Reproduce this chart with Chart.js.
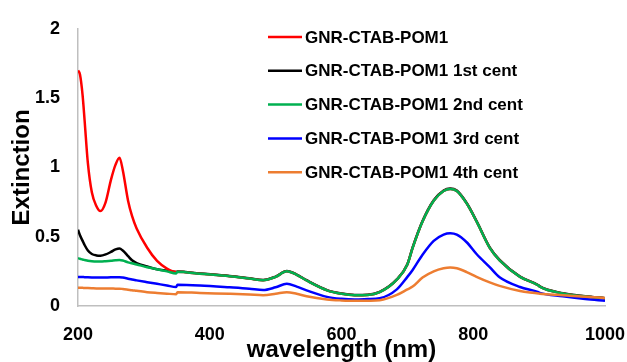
<!DOCTYPE html>
<html>
<head>
<meta charset="utf-8">
<script src="https://cdn.jsdelivr.net/npm/chart.js@4"></script>
<style>
  html, body { margin: 0; padding: 0; background: #fff; }
  #wrap { width: 627px; height: 362px; }
</style>
</head>
<body>
<div id="wrap"><canvas id="myChart" width="627" height="362"></canvas></div>
<script>
// wavelength (nm)
const wavelengths = [200, 203, 207, 210, 215, 221, 228, 234, 242, 250, 257, 263, 268, 276, 282, 289, 305, 320, 335, 349,
    351, 385, 430, 460, 481, 500, 517, 532, 547, 578, 600, 620, 640, 658, 684, 700, 708, 723, 740, 755, 765, 775,
    790, 805, 825, 840, 871, 899, 901, 936, 970, 1000];

const seriesNames = ["GNR-CTAB-POM1", "GNR-CTAB-POM1 1st cent", "GNR-CTAB-POM1 2nd cent", "GNR-CTAB-POM1 3rd cent", "GNR-CTAB-POM1 4th cent"];
const seriesColors = ["#ff0000", "#000000", "#00b050", "#0000ff", "#ed7d31"];

const pom1 = [1.70, 1.67, 1.52, 1.34, 1.03, 0.82, 0.72, 0.685, 0.75, 0.91, 1.02, 1.07, 0.98, 0.76, 0.65, 0.56, 0.42, 0.325, 0.27, 0.245,
    0.247, 0.233, 0.215, 0.198, 0.186, 0.21, 0.25, 0.225, 0.184, 0.113, 0.088, 0.078, 0.08, 0.10, 0.19, 0.30, 0.42, 0.61, 0.76, 0.83, 0.845, 0.83,
    0.74, 0.61, 0.42, 0.33, 0.21, 0.148, 0.14, 0.09, 0.068, 0.055];

const cent1 = [0.55, 0.51, 0.47, 0.44, 0.40, 0.375, 0.365, 0.363, 0.372, 0.39, 0.408, 0.415, 0.40, 0.36, 0.33, 0.31, 0.285, 0.265, 0.255, 0.245,
    0.249, 0.235, 0.217, 0.2, 0.188, 0.212, 0.252, 0.227, 0.186, 0.115, 0.09, 0.08, 0.082, 0.102, 0.192, 0.302, 0.423, 0.613, 0.763, 0.833, 0.848, 0.833,
    0.743, 0.613, 0.423, 0.333, 0.212, 0.15, 0.142, 0.092, 0.07, 0.056];

const cent2 = [0.345, 0.341, 0.335, 0.332, 0.327, 0.323, 0.321, 0.321, 0.323, 0.326, 0.33, 0.332, 0.328, 0.315, 0.308, 0.30, 0.28, 0.265, 0.25, 0.235,
    0.247, 0.233, 0.215, 0.198, 0.186, 0.21, 0.25, 0.225, 0.184, 0.113, 0.088, 0.078, 0.08, 0.10, 0.19, 0.30, 0.42, 0.61, 0.76, 0.83, 0.845, 0.83,
    0.74, 0.61, 0.42, 0.33, 0.21, 0.148, 0.14, 0.09, 0.068, 0.055];

const cent3 = [0.21, 0.21, 0.209, 0.208, 0.207, 0.206, 0.205, 0.205, 0.206, 0.207, 0.208, 0.208, 0.205, 0.197, 0.191, 0.185, 0.172, 0.16, 0.148, 0.137,
    0.153, 0.148, 0.135, 0.125, 0.115, 0.135, 0.16, 0.14, 0.113, 0.066, 0.052, 0.047, 0.05, 0.056, 0.12, 0.21, 0.26, 0.37, 0.47, 0.515, 0.525, 0.515,
    0.46, 0.375, 0.28, 0.207, 0.137, 0.10, 0.095, 0.07, 0.05, 0.037];

const cent4 = [0.132, 0.132, 0.131, 0.13, 0.129, 0.128, 0.127, 0.127, 0.126, 0.126, 0.125, 0.125, 0.123, 0.118, 0.114, 0.11, 0.10, 0.094, 0.089, 0.085,
    0.10, 0.094, 0.088, 0.083, 0.078, 0.088, 0.10, 0.088, 0.07, 0.047, 0.04, 0.037, 0.038, 0.042, 0.08, 0.12, 0.14, 0.205, 0.25, 0.272, 0.278, 0.272,
    0.245, 0.21, 0.17, 0.145, 0.108, 0.09, 0.088, 0.078, 0.066, 0.058];

const xTicks = [200, 400, 600, 800, 1000];
const yTicks = [0, 0.5, 1, 1.5, 2];

const seriesValues = [pom1, cent1, cent2, cent3, cent4];
const drawOrder = [3, 4, 2, 1, 0]; // green over black/red

const FONT = "'Liberation Sans', Arial, sans-serif";

// legend drawn inside the plot, like the original
const innerLegend = {
    id: "innerLegend",
    afterDatasetsDraw(chart) {
        const ctx = chart.ctx;
        ctx.save();
        ctx.font = "bold 17px " + FONT;
        ctx.textBaseline = "middle";
        ctx.lineWidth = 2.5;
        chart.data.datasets.forEach((ds, i) => {
            const y = 37 + i * 33.8;
            ctx.strokeStyle = ds.borderColor;
            ctx.beginPath();
            ctx.moveTo(268, y);
            ctx.lineTo(302, y);
            ctx.stroke();
            ctx.fillStyle = "#000";
            ctx.fillText(ds.label, 305, y + 1);
        });
        ctx.restore();
    }
};

const datasets = seriesNames.map((name, i) => ({
    label: name,
    data: wavelengths.map((w, j) => ({ x: w, y: seriesValues[i][j] })),
    borderColor: seriesColors[i],
    backgroundColor: seriesColors[i],
    borderWidth: 2.5,
    pointRadius: 0,
    cubicInterpolationMode: "monotone",
    fill: false,
    order: drawOrder[i]
}));

new Chart(document.getElementById("myChart"), {
    type: "line",
    data: { datasets },
    plugins: [innerLegend],
    options: {
        responsive: false,
        animation: false,
        layout: { padding: { top: 23, right: 0, left: 0, bottom: 0 } },
        plugins: {
            legend: { display: false },
            tooltip: { enabled: false }
        },
        scales: {
            x: {
                type: "linear",
                min: 200,
                max: 1000,
                afterFit: s => {
                    s.height = 56;
                    // tick padding gets counted into the label overhang; keep only the room "1000" needs
                    s.paddingLeft = 0;
                    s.paddingRight = 22;
                },
                afterBuildTicks: s => { s.ticks = xTicks.map(v => ({ value: v })); },
                grid: { display: false, drawTicks: false },
                border: { display: true, color: "#bfbfbf", width: 1.5 },
                ticks: {
                    color: "#000", padding: 18, maxRotation: 0,
                    callback: v => String(v),
                    font: { family: FONT, size: 18, weight: "bold" }
                },
                title: {
                    display: true,
                    text: "wavelength (nm)",
                    color: "#000",
                    padding: { top: 0, bottom: 0 },
                    font: { family: FONT, size: 24, weight: "bold", lineHeight: 1 }
                }
            },
            y: {
                min: 0,
                max: 2,
                afterFit: s => { s.width = 78; },
                afterBuildTicks: s => { s.ticks = yTicks.map(v => ({ value: v })); },
                grid: { display: false, drawTicks: false },
                border: { display: true, color: "#bfbfbf", width: 1.5 },
                ticks: {
                    color: "#000", padding: 18,
                    callback: v => String(v),
                    font: { family: FONT, size: 18, weight: "bold" }
                },
                title: {
                    display: true,
                    text: "Extinction",
                    color: "#000",
                    padding: { top: 10, bottom: 0 },
                    font: { family: FONT, size: 24, weight: "bold", lineHeight: 1 }
                }
            }
        }
    }
});
</script>
</body>
</html>
